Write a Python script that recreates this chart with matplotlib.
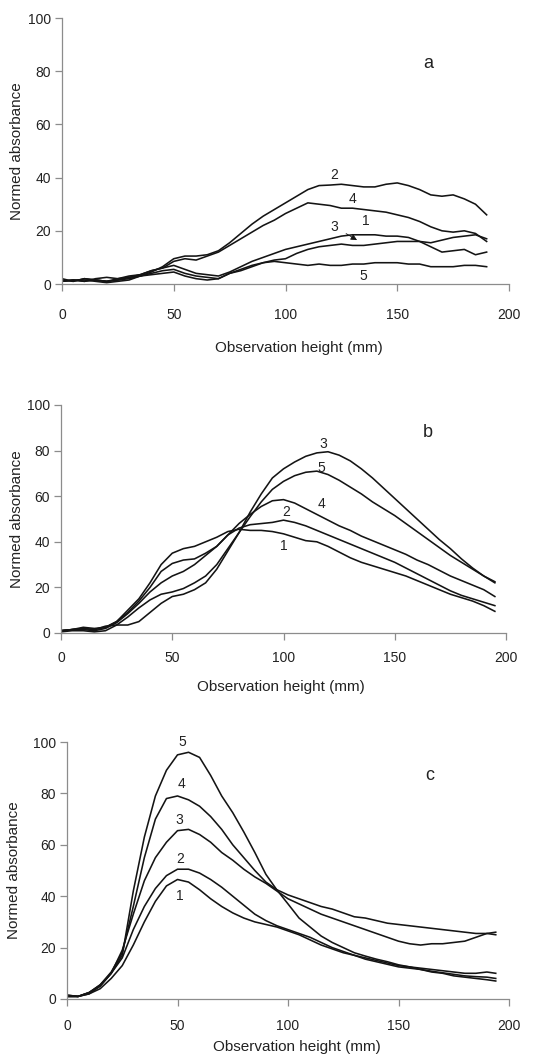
import numpy as np
import matplotlib
matplotlib.use("Agg")
import matplotlib.pyplot as plt

plt.rcParams['font.family'] = ['Liberation Sans', 'DejaVu Sans']

# ---- panel a ----
x_a = list(range(0, 191, 5))
a_curves = {
    '1': [1, 1.5, 1.5, 1, 0.5, 1, 1.5, 3, 4, 5, 5.5, 4, 3, 2.5, 2, 4, 5.5, 7, 8, 9,
          9.5, 11.5, 13, 14, 14.5, 15, 14.5, 14.5, 15, 15.5, 16, 16, 16, 15.5, 16.5, 17.5, 18, 18.5, 17],
    '2': [1.5, 1, 2, 1.5, 1, 2, 2.5, 3, 4.5, 6.5, 9.5, 10.5, 10.5, 11, 12.5, 15.5, 19, 22.5, 25.5, 28,
          30.5, 33, 35.5, 37, 37.2, 37.5, 37, 36.5, 36.5, 37.5, 38, 37, 35.5, 33.5, 33, 33.5, 32, 30, 26],
    '3': [2, 1, 2, 1.5, 1, 1.5, 2.5, 3.5, 5, 6, 7, 5.5, 4, 3.5, 3, 4.5, 6.5, 8.5, 10, 11.5,
          13, 14, 15, 16, 17, 18, 18.5, 18.5, 18.5, 18, 18, 17.5, 16, 14, 12, 12.5, 13, 11, 12],
    '4': [1, 1.5, 1, 2, 2.5, 2, 3, 3.5, 5, 6, 8.5, 9.5, 9, 10.5, 12, 14.5, 17, 19.5, 22, 24,
          26.5, 28.5, 30.5, 30, 29.5, 28.5, 28.5, 28, 27.5, 27, 26, 25, 23.5, 21.5, 20, 19.5, 20, 19, 16],
    '5': [1, 1.5, 1, 1.5, 1, 1.5, 2, 3, 3.5, 4, 4.5, 3, 2, 1.5, 2, 4, 5, 6.5, 8, 8.5,
          8, 7.5, 7, 7.5, 7, 7, 7.5, 7.5, 8, 8, 8, 7.5, 7.5, 6.5, 6.5, 6.5, 7, 7, 6.5],
}

# ---- panel b ----
x_b = list(range(0, 196, 5))
b_curves = {
    '1': [1, 1.5, 2, 1.5, 2.5, 5, 10, 15, 22, 30, 35, 37, 38, 40, 42, 44.5, 45.5, 45, 45, 44.5,
          43.5, 42, 40.5, 40, 38, 35.5, 33, 31, 29.5, 28, 26.5, 25, 23, 21, 19, 17, 15.5, 14, 12, 9.5],
    '2': [1, 1.5, 2.5, 2, 2.5, 5, 9, 14, 20, 27, 30.5, 32, 32.5, 35, 38, 43, 46, 47.5, 48, 48.5,
          49.5, 48.5, 47, 45, 43, 41, 39, 37, 35, 33, 31, 28.5, 26, 23.5, 21, 18.5, 16.5, 15, 13.5, 12],
    '3': [1, 1.5, 2, 1.5, 3, 3.5, 3.5, 5, 9, 13, 16, 17, 19, 22, 28, 36, 44, 53, 61, 68,
          72, 75, 77.5, 79, 79.5, 78, 75.5, 72, 68, 63.5, 59, 54.5, 50, 45.5, 41, 37, 32.5, 28.5, 25, 22.5],
    '4': [1, 1.5, 1.5, 1, 2, 4.5, 8.5, 13, 18, 22, 25, 27, 30, 34, 38, 43, 48, 52, 55.5, 58,
          58.5, 57, 54.5, 52, 49.5, 47, 45, 42.5, 40.5, 38.5, 36.5, 34.5, 32, 30, 27.5, 25, 23, 21, 19, 16],
    '5': [0.5, 1, 1, 0.5, 1, 3.5, 7, 11, 14.5, 17, 18, 19.5, 22, 25, 30, 37, 44, 51, 57.5, 63,
          66.5, 69, 70.5, 71, 69.5, 67, 64, 61, 57.5, 54.5, 51.5, 48, 44.5, 41, 37.5, 34, 31, 28, 25, 22],
}

# ---- panel c ----
x_c = list(range(0, 191, 5)) + [194]
c_curves = {
    '1': [1, 1, 2, 4, 8, 13, 21, 30, 38, 44, 46.5, 45.5, 42.5, 39, 36, 33.5, 31.5, 30, 29, 28,
          26.5, 25, 23, 21, 19.5, 18, 17, 15.5, 14.5, 13.5, 12.5, 12, 11.5, 10.5, 10, 9, 8.5, 8, 7.5, 7],
    '2': [1.5, 1, 2.5, 5, 10, 16, 27, 36, 43, 48, 50.5, 50.5, 49, 46.5, 43.5, 40, 36.5, 33, 30.5, 28.5,
          27, 25.5, 24, 22, 20, 18.5, 17, 16, 15, 14, 13, 12.5, 12, 11.5, 11, 10.5, 10, 10, 10.5, 10],
    '3': [1.5, 1, 2.5, 5.5, 10, 19, 33, 46, 55, 61, 65.5, 66, 64, 61, 57, 54, 50.5, 47.5, 45, 42,
          39, 37, 35, 33, 31.5, 30, 28.5, 27, 25.5, 24, 22.5, 21.5, 21, 21.5, 21.5, 22, 22.5, 24, 25.5, 26],
    '4': [1, 1, 2.5, 5.5, 10.5, 18, 36, 55, 70, 78, 79, 77.5, 75, 71, 66, 60, 55, 50, 45.5, 42.5,
          40.5, 39, 37.5, 36, 35, 33.5, 32, 31.5, 30.5, 29.5, 29, 28.5, 28, 27.5, 27, 26.5, 26, 25.5, 25.5, 25],
    '5': [1, 1, 2, 5, 10, 17, 42, 63, 79, 89, 95, 96, 94, 87, 79, 72.5, 65, 57, 48.5, 42.4,
          37, 31.5, 28, 24.5, 22, 20, 18, 16.7, 15.5, 14.5, 13.3, 12.5, 11.5, 10.8, 10.2, 9.6, 9, 8.7, 8.5, 8],
}

LINE = '#141414'
AXIS = '#8c8c8c'
TEXT = '#222222'


def style_axis(ax, xlabel_pos, ylabel_x, tick_pad):
    ax.set_xlim(0, 200)
    ax.set_ylim(0, 100)
    ax.set_xticks([0, 50, 100, 150, 200])
    ax.set_yticks([0, 20, 40, 60, 80, 100])
    for side in ('top', 'right'):
        ax.spines[side].set_visible(False)
    for side in ('left', 'bottom'):
        ax.spines[side].set_color(AXIS)
        ax.spines[side].set_linewidth(0.9)
    ax.tick_params(axis='both', colors=AXIS, labelcolor=TEXT, labelsize=10,
                   length=5, width=0.9, direction='out')
    ax.tick_params(axis='x', pad=tick_pad)
    ax.tick_params(axis='y', pad=3)
    ax.set_xlabel('Observation height (mm)', fontsize=11, color=TEXT)
    ax.set_ylabel('Normed absorbance', fontsize=11, color=TEXT)
    ax.xaxis.label.set_va('center')
    ax.yaxis.label.set_va('center')
    ax.xaxis.set_label_coords(*xlabel_pos)
    ax.yaxis.set_label_coords(ylabel_x, 0.5)


def plot_panel(ax, xvals, curves, labels, letter, letter_pos):
    for name, yvals in curves.items():
        ax.plot(xvals, yvals, color=LINE, lw=1.15)
    for name, (lx, ly) in labels.items():
        ax.text(lx, ly, name, fontsize=10, ha='center', va='center', color=TEXT)
    ax.text(*letter_pos, letter, fontsize=13, ha='center', va='center', color=TEXT)


fig = plt.figure(figsize=(5.55, 10.56), dpi=100)
W, H = 555, 1056


def add_axes(left, right, top, bottom):
    return fig.add_axes([left / W, 1 - bottom / H, (right - left) / W, (bottom - top) / H])


ax_a = add_axes(62, 509, 18, 284)
ax_b = add_axes(61, 506, 405, 633)
ax_c = add_axes(67, 509, 742, 999)

plot_panel(ax_a, x_a, a_curves,
           {'2': (122, 41), '4': (130, 32), '1': (136, 23.5), '5': (135, 3)},
           'a', (164, 83))
ax_a.annotate('3', xy=(132, 16.5), xytext=(122, 21.5), fontsize=10, ha='center', va='center',
              color=TEXT,
              arrowprops=dict(arrowstyle='-|>', color=LINE, lw=0.6, mutation_scale=9,
                              shrinkA=4, shrinkB=0))
plot_panel(ax_b, x_b, b_curves,
           {'3': (118, 83), '5': (117, 72.5), '4': (117, 56.5), '2': (101, 53), '1': (100, 38)},
           'b', (165, 88))
plot_panel(ax_c, x_c, c_curves,
           {'5': (52, 100), '4': (52, 83.5), '3': (51, 69.5), '2': (51, 54.5), '1': (51, 40)},
           'c', (164, 87))

style_axis(ax_a, (0.53, -0.24), -0.10, 12)
style_axis(ax_b, (0.494, -0.235), -0.098, 8)
style_axis(ax_c, (0.52, -0.187), -0.119, 9.5)

fig.savefig('out.png', dpi=100, facecolor='white')
